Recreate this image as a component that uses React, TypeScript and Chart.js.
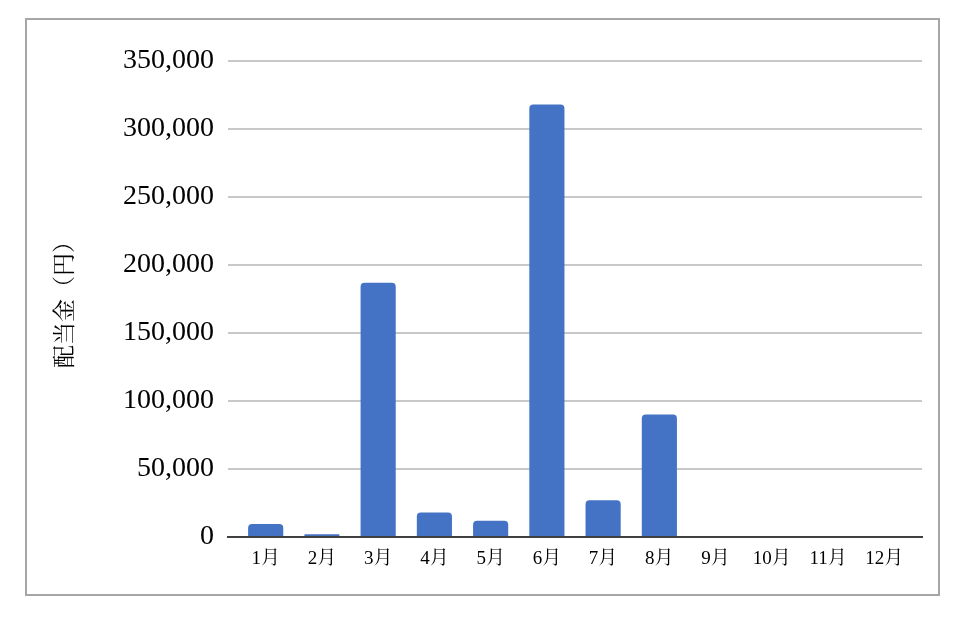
import React, { useEffect, useRef } from "react";
import { Chart, registerables } from "chart.js";

Chart.register(...registerables);

const months = ["1月", "2月", "3月", "4月", "5月", "6月", "7月", "8月", "9月", "10月", "11月", "12月"];
const dividends = [9500, 2000, 187000, 18000, 12000, 318000, 27000, 90000, 0, 0, 0, 0];
const yTicks = [0, 50000, 100000, 150000, 200000, 250000, 300000, 350000];
const yTitle = "配当金（円）";

const FONT = "'Liberation Serif', 'Noto Serif CJK JP', 'Noto Sans CJK JP', serif";

export default function App() {
  const ref = useRef<HTMLCanvasElement | null>(null);

  useEffect(() => {
    if (!ref.current) return;
    const chart = new Chart(ref.current, {
      type: "bar",
      data: {
        datasets: [
          {
            data: dividends.map((v, i) => ({ x: i, y: v })),
            backgroundColor: "#4472C4",
            borderRadius: 4,
            borderSkipped: "bottom",
            barPercentage: 0.625,
            categoryPercentage: 1,
          },
        ],
      },
      options: {
        animation: false,
        responsive: true,
        maintainAspectRatio: false,
        layout: { padding: { top: 41, right: 16, left: 0, bottom: 0 } },
        plugins: { legend: { display: false }, tooltip: { enabled: false } },
        scales: {
          x: {
            type: "linear",
            offset: false,
            min: -0.67,
            max: 11.67,
            afterBuildTicks: (scale: any) => {
              scale.ticks = months.map((_, i) => ({ value: i }));
            },
            afterFit: (scale: any) => {
              scale.height = 57;
            },
            grid: { display: false, drawTicks: false, offset: false },
            border: { display: true, color: "#404040", width: 2 },
            ticks: {
              autoSkip: false,
              maxRotation: 0,
              padding: 11,
              color: "#000",
              font: { family: FONT, size: 19 },
              callback: (v: any) => months[v as number] ?? "",
            },
          },
          y: {
            min: 0,
            max: 350000,
            afterBuildTicks: (scale: any) => {
              scale.ticks = yTicks.map((v) => ({ value: v }));
            },
            afterFit: (scale: any) => {
              scale.width = 201;
            },
            grid: {
              drawTicks: false,
              lineWidth: 2,
              color: (ctx: any) => (ctx.tick && ctx.tick.value === 0 ? "rgba(0,0,0,0)" : "#c8c8c8"),
            },
            border: { display: false },
            ticks: {
              padding: 14,
              color: "#000",
              font: { family: FONT, size: 28 },
              callback: (v: any) => Number(v).toLocaleString("en-US"),
            },
            title: {
              display: true,
              text: yTitle,
              color: "#000",
              font: { family: FONT, size: 23 },
              padding: { top: 25, bottom: 0 },
            },
          },
        },
      },
    });
    return () => chart.destroy();
  }, []);

  return (
    <div style={{ padding: "10px 0 0 17px" }}>
      <div
        style={{
          width: 915,
          height: 578,
          border: "2px solid #a6a6a6",
          boxSizing: "border-box",
          position: "relative",
          background: "#fff",
        }}
      >
        <canvas ref={ref} />
      </div>
    </div>
  );
}
